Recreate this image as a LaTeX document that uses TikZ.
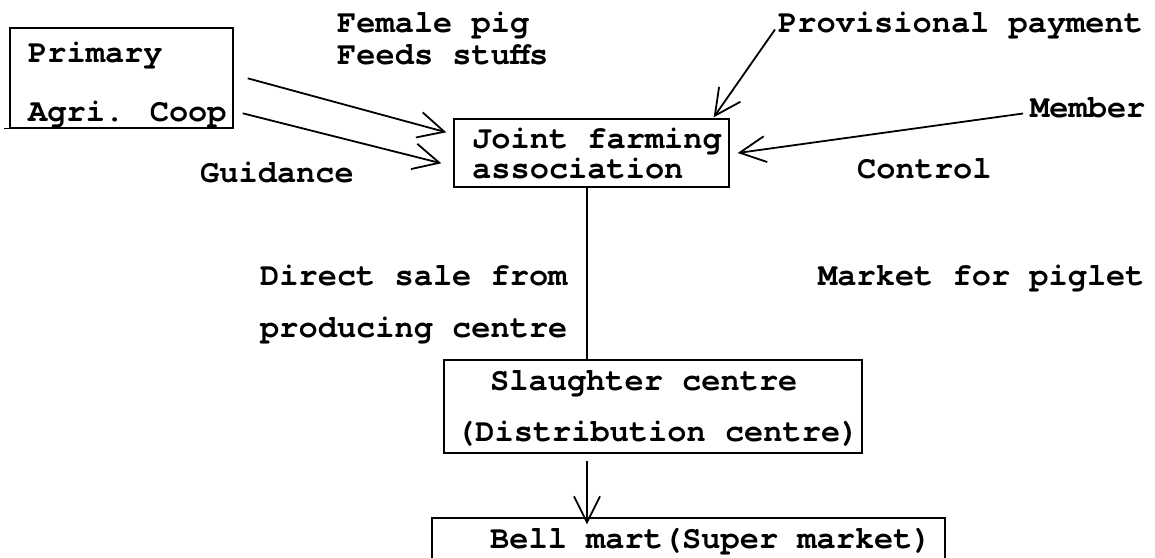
\documentclass[tikz,border=0pt]{standalone}
\usepackage{fontspec}
\newfontfamily\typefont{texgyrecursor-bold.otf}
\usetikzlibrary{arrows.meta,calc}

\begin{document}
\begin{tikzpicture}[x=1pt,y=-1pt,
  lbl/.style={anchor=base west, inner sep=0pt, text height=19pt, text depth=6pt,
              font={\typefont\fontsize{32}{38}\selectfont}},
  box/.style={draw, line width=1.4pt, inner sep=0pt},
  plainline/.style={line width=2.6pt},
  conn/.style={line width=1.8pt, -{Straight Barb[length=26pt,width=26pt,line width=1.8pt]}}]

  % canvas
  \fill[white] (0,0) rectangle (1155,557);
  \useasboundingbox (0,0) rectangle (1155,557);

  % boxes
  \node[box, minimum width=223pt, minimum height=100pt] (coop)      at (121.5,78)  {};
  \node[box, minimum width=275pt, minimum height=68pt]  (joint)     at (591.5,153) {};
  \node[box, minimum width=418pt, minimum height=93pt]  (slaughter) at (653,406.5) {};
  \node[box, minimum width=513pt, minimum height=82pt]  (bell)      at (688.5,559) {};

  % box texts
  \node[lbl] (coop1) at (28,62)   {Primary};
  \node[lbl] (coop2) at (28,121)  {Agri. Coop};
  \node[lbl] (joint1) at (472,148) {Joint farming};
  \node[lbl] (joint2) at (472,178) {association};
  \node[lbl] (sl1) at (490,390) {Slaughter centre};
  \node[lbl] (sl2) at (456,441) {(Distribution centre)};
  \node[lbl] (bell1) at (490,548) {Bell mart(Super market)};

  % free labels
  \node[lbl] (fem)   at (337,32)  {Female pig};
  \node[lbl] (feeds) at (337,64)  {Feeds stuffs};
  \node[lbl] (guid)  at (200,182) {Guidance};
  \node[lbl] (prov)  at (778,32)  {Provisional payment};
  \node[lbl] (memb)  at (1030,117) {Member};
  \node[lbl] (ctrl)  at (857,178) {Control};
  \node[lbl] (dir1)  at (260,285) {Direct sale from};
  \node[lbl] (dir2)  at (260,337) {producing centre};
  \node[lbl] (mkt)   at (818,285) {Market for piglet};

  % flows into the joint farming association
  \draw[conn] ([xshift=14pt,yshift=-51pt]coop.north east) -- ([xshift=-7pt,yshift=-14pt]joint.north west);
  \draw[conn] ([xshift=9pt,yshift=-86pt]coop.north east)  -- ([xshift=-12pt,yshift=-45pt]joint.north west);
  \draw[conn] ([xshift=-3pt,yshift=-4pt]prov.west) -- ([xshift=-16pt,yshift=1pt]joint.north east);
  \draw[conn] ([xshift=-7pt,yshift=-3pt]memb.west) -- ([xshift=8pt]joint.east);

  % bottom edge of the cooperative box runs slightly past its left side
  \draw[line width=1.4pt] (coop.south west) -- ++(-5,0);

  % sales channel
  \draw[plainline] ([xshift=-4.5pt]joint.south) -- ([xshift=-4.5pt]joint.south |- slaughter.north);
  \draw[conn] ([xshift=-66pt,yshift=-7pt]slaughter.south) -- ([xshift=-101.5pt,yshift=-7pt]bell.north);
\end{tikzpicture}
\end{document}
